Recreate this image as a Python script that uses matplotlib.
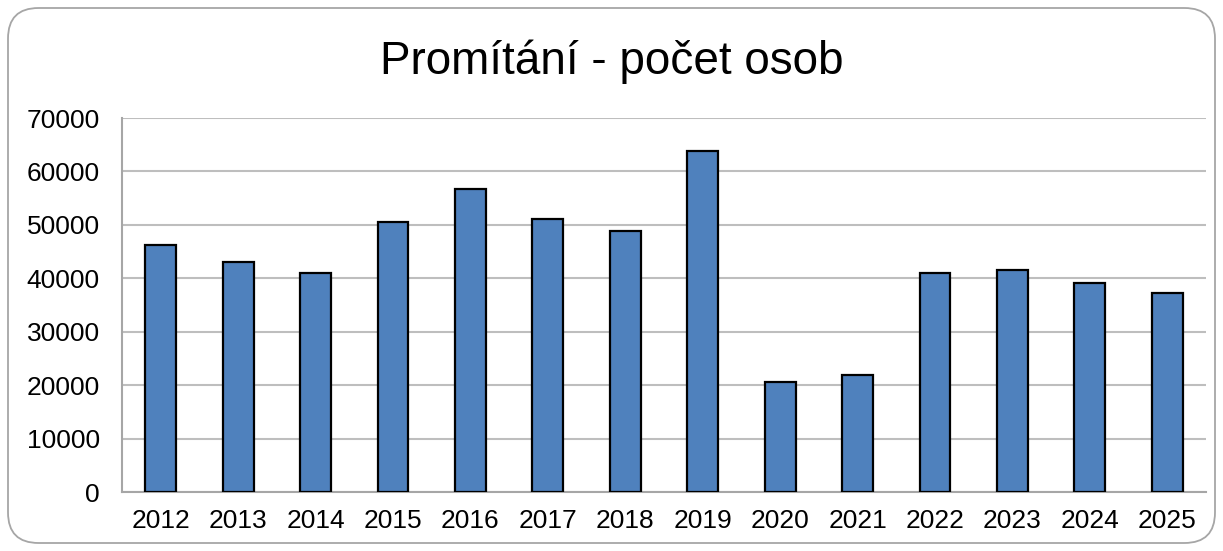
import matplotlib
matplotlib.use('Agg')
import matplotlib.pyplot as plt
from matplotlib.patches import FancyBboxPatch
import numpy as np

plt.rcParams['font.family'] = ['Liberation Sans', 'DejaVu Sans']

years = ['2012', '2013', '2014', '2015', '2016', '2017', '2018',
         '2019', '2020', '2021', '2022', '2023', '2024', '2025']
persons = [46200, 43100, 41000, 50500, 56800, 51100, 48900,
           63800, 20600, 21900, 41000, 41500, 39100, 37300]
yticks = [0, 10000, 20000, 30000, 40000, 50000, 60000, 70000]

W, H = 1223, 551
fig = plt.figure(figsize=(W / 100, H / 100), dpi=100)

# rounded frame around the chart
frame = FancyBboxPatch((8 / W, 8 / H), 1 - 16 / W, 1 - 16 / H,
                       boxstyle='round,pad=0,rounding_size=0.025',
                       transform=fig.transFigure, facecolor='white',
                       edgecolor='#A6A6A6', linewidth=1.3, mutation_aspect=W / H,
                       zorder=-5)
fig.patches.append(frame)

ax = fig.add_axes([122 / W, 1 - 492 / H, (1206 - 122) / W, (492 - 118) / H])
ax.set_zorder(2)
ax.set_facecolor('none')

x = np.arange(len(years))
ax.bar(x, persons, width=0.4, color='#4F81BD', edgecolor='black', linewidth=1.6, zorder=3)

ax.set_xlim(-0.5, len(years) - 0.5)
ax.set_ylim(0, 70000)
ax.set_yticks(yticks)
ax.set_yticklabels([str(v) for v in yticks])
ax.set_xticks(x)
ax.set_xticklabels(years)
ax.tick_params(axis='y', length=0, pad=16, labelsize=19)
ax.tick_params(axis='x', length=0, pad=12, labelsize=19)

ax.grid(axis='y', color='#BEBEBE', linewidth=1.5, zorder=0)
ax.spines['top'].set_visible(False)
ax.spines['right'].set_visible(False)
ax.spines['left'].set_color('#A6A6A6')
ax.spines['bottom'].set_color('#A6A6A6')
ax.spines['left'].set_linewidth(1.5)
ax.spines['bottom'].set_linewidth(1.5)

fig.text(0.5, 1 - 62 / H, 'Promítání - počet osob', ha='center', va='center', fontsize=33)

fig.savefig('out.png', dpi=100)
